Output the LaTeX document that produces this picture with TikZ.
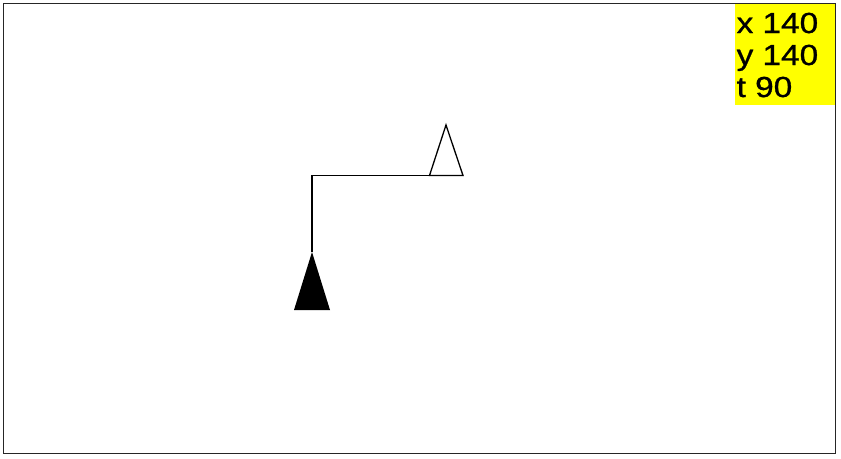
\documentclass[tikz,border=0pt]{standalone}
\usepackage{fontspec}
\setmainfont{Liberation Sans}
\newfontfamily\panelfont[FakeStretch=1.15, FakeBold=1]{Liberation Sans}
\definecolor{panel}{HTML}{FFFF00}

\begin{document}
\begin{tikzpicture}[x=1pt, y=-1pt, line width=1.3pt,
    readout/.style={anchor=base west, inner sep=0pt, font=\panelfont\fontsize{29}{32}\selectfont}]

\useasboundingbox (0,0) rectangle (841,458);

% Canvas frame and status panel
\fill[panel] (735,4) rectangle (835,105);
\draw[line width=1.5pt, black!85] (3.5,3.5) rectangle (835.5,453.5);
\node[readout] (px) at (736,33) {x 140};
\node[readout] (py) at (736,65) {y 140};
\node[readout] (pt) at (736,97) {t 90};

% Turtle path
\coordinate (start) at (312,252);
\coordinate (corner) at (312,175.5);
\coordinate (stop) at (463,175.5);
\draw (start) -- (corner) -- (stop);

% Start turtle (filled) and current turtle (outline)
\fill (312,252) -- (330,310) -- (294,310) -- cycle;
\draw[line join=miter] (446,125) -- (463,175.5) -- (429.5,175.5) -- cycle;

\end{tikzpicture}
\end{document}
